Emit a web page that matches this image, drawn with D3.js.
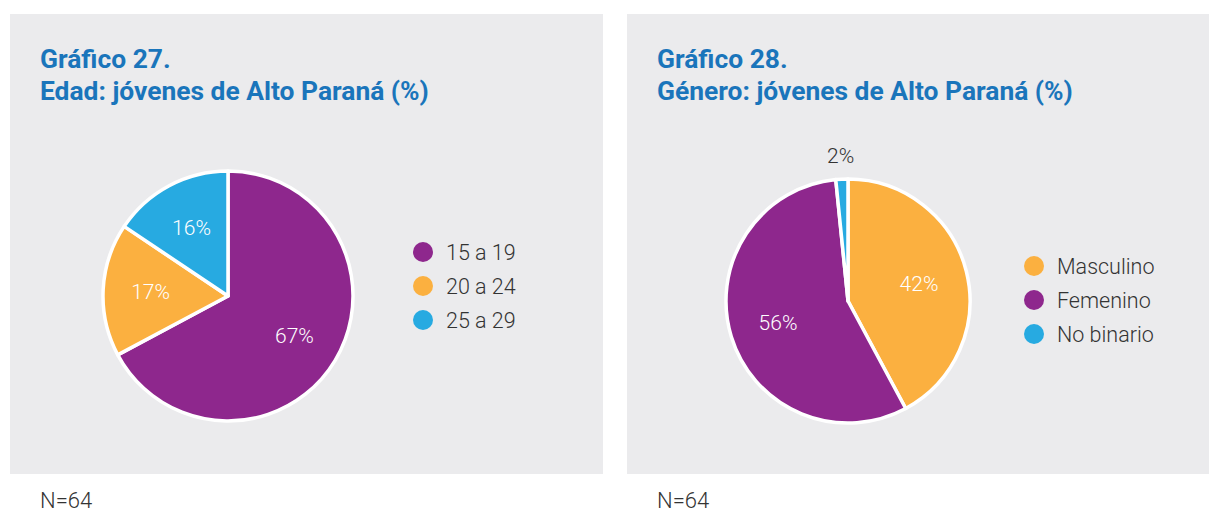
<!DOCTYPE html>
<html>
<head>
<meta charset="utf-8">
<script src="https://cdn.jsdelivr.net/npm/d3@7"></script>
<style>
  body { margin: 0; background: #ffffff; }
  svg { display: block; }
</style>
</head>
<body>
<div id="chart"></div>
<script>
// chart data (N=64)
var edadLabels = ["15 a 19", "20 a 24", "25 a 29"];
var edadValues = [67.2, 17.2, 15.6];
var edadText = ["67%", "17%", "16%"];

var generoLabels = ["Masculino", "Femenino", "No binario"];
var generoValues = [42.2, 56.3, 1.6];
var generoText = ["42%", "56%", "2%"];

var purple = "#8e278d", orange = "#fbb040", blue = "#27aae1";

var svg = d3.select("#chart").append("svg")
  .attr("width", 1209)
  .attr("height", 512);

// one panel = grey box + title + pie + legend + N
function drawPanel(opt) {
  var g = svg.append("g");

  g.append("rect")
    .attr("x", opt.x)
    .attr("y", 14)
    .attr("width", opt.w)
    .attr("height", 460)
    .attr("fill", "#ebebed");

  var title = g.append("text")
    .attr("x", opt.x + 30)
    .attr("y", 68)
    .attr("font-family", "Roboto, sans-serif")
    .attr("font-weight", "bold")
    .attr("font-size", "26.4px")
    .attr("fill", "#1a75bb");
  title.append("tspan").text(opt.title1);
  title.append("tspan").attr("x", opt.x + 30).attr("dy", 32).text(opt.title2);

  var pie = d3.pie().sort(null).value(d => d);
  var arcs = pie(opt.values);
  var arc = d3.arc().innerRadius(0).outerRadius(opt.r);

  var pieG = g.append("g")
    .attr("transform", `translate(${opt.cx}, ${opt.cy})`);

  pieG.selectAll("path")
    .data(arcs)
    .enter()
    .append("path")
    .attr("d", arc)
    .attr("fill", (d, i) => opt.colors[i])
    .attr("stroke", "#ffffff")
    .attr("stroke-width", 3.5)
    .attr("stroke-linejoin", "round");

  // labels: inside the slice, or just outside when the slice is tiny
  var inner = d3.arc().innerRadius(opt.r * opt.lf).outerRadius(opt.r * opt.lf);
  var outer = d3.arc().innerRadius(opt.r + 24).outerRadius(opt.r + 24);
  pieG.selectAll(".lbl")
    .data(arcs)
    .enter()
    .append("text")
    .attr("class", "lbl")
    .attr("transform", d => {
      var small = (d.endAngle - d.startAngle) < 0.3;
      var c = small ? outer.centroid(d) : inner.centroid(d);
      return `translate(${c[0]}, ${c[1]})`;
    })
    .attr("dy", "0.35em")
    .attr("text-anchor", "middle")
    .attr("font-family", "Roboto, sans-serif")
    .attr("font-weight", 300)
    .attr("font-size", "21px")
    .attr("fill", d => (d.endAngle - d.startAngle) < 0.3 ? "#333333" : "#ffffff")
    .text((d, i) => opt.text[i]);

  // legend
  var y = d3.scalePoint()
    .domain(opt.labels)
    .range([opt.ly, opt.ly + 68]);

  var leg = g.selectAll(".leg")
    .data(opt.order)
    .enter()
    .append("g")
    .attr("transform", d => `translate(${opt.lx}, ${y(opt.labels[d])})`);

  leg.append("circle")
    .attr("r", 10)
    .attr("fill", d => opt.colors[d]);

  leg.append("text")
    .attr("x", 23)
    .attr("dy", "0.35em")
    .attr("font-family", "Roboto, sans-serif")
    .attr("font-weight", 300)
    .attr("font-size", "21.5px")
    .attr("fill", "#333333")
    .text(d => opt.labels[d]);

  g.append("text")
    .attr("x", opt.x + 30)
    .attr("y", 508)
    .attr("font-family", "Roboto, sans-serif")
    .attr("font-weight", 300)
    .attr("font-size", "22px")
    .attr("fill", "#333333")
    .text("N=64");
}

drawPanel({
  x: 10, w: 593,
  title1: "Gráfico 27.",
  title2: "Edad: jóvenes de Alto Paraná (%)",
  values: edadValues, text: edadText, labels: edadLabels,
  order: [0, 1, 2],
  colors: [purple, orange, blue],
  cx: 228, cy: 296, r: 125, lf: 0.62,
  lx: 423, ly: 252
});

drawPanel({
  x: 627, w: 582,
  title1: "Gráfico 28.",
  title2: "Género: jóvenes de Alto Paraná (%)",
  values: generoValues, text: generoText, labels: generoLabels,
  order: [0, 1, 2],
  colors: [orange, purple, blue],
  cx: 848, cy: 301, r: 122, lf: 0.6,
  lx: 1034, ly: 266
});
</script>
</body>
</html>
